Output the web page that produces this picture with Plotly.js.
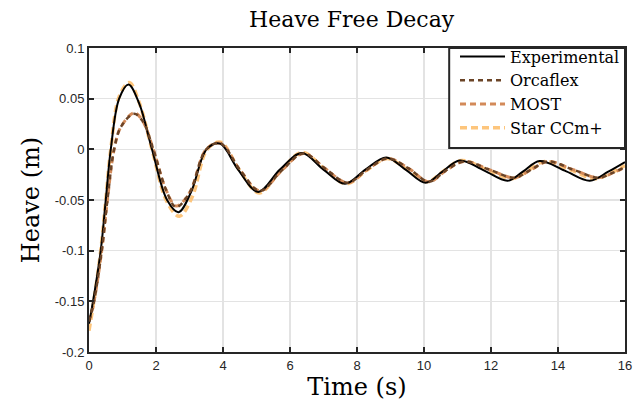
<!DOCTYPE html>
<html>
<head>
<meta charset="utf-8">
<script src="https://cdn.plot.ly/plotly-3.0.1.min.js"></script>
<style>html,body{margin:0;padding:0;background:#fff;}#chart{width:633px;height:409px;}</style>
</head>
<body>
<div id="chart"></div>
<script>
// Experimental
const expT = [0, 0.12, 0.35, 0.5, 0.65, 0.9, 1.18, 1.5, 1.88, 2.33, 2.67, 3.05, 3.51, 3.91, 4.45, 5.05, 5.7, 6.35, 7.0, 7.64, 8.25, 8.87, 9.45, 10.05, 10.55, 11.07, 11.8, 12.5, 12.95, 13.45, 14.2, 14.95, 15.5, 16];
const expY = [-0.172, -0.15, -0.1, -0.05, 0, 0.05, 0.064, 0.045, 0, -0.05, -0.062, -0.042, 0, 0.0056, -0.02, -0.042, -0.02, -0.0036, -0.02, -0.034, -0.02, -0.008, -0.02, -0.033, -0.022, -0.011, -0.021, -0.031, -0.022, -0.0115, -0.021, -0.031, -0.022, -0.0125];
// Orcaflex
const orcT = [0, 0.15, 0.38, 0.55, 0.75, 0.95, 1.34, 1.6, 1.92, 2.3, 2.6, 3.0, 3.5, 3.92, 4.5, 5.1, 5.75, 6.4, 7.05, 7.72, 8.3, 8.92, 9.55, 10.15, 10.65, 11.2, 11.95, 12.7, 13.2, 13.7, 14.45, 15.2, 15.65, 16];
const orcY = [-0.17, -0.15, -0.1, -0.05, 0, 0.022, 0.035, 0.028, 0, -0.04, -0.057, -0.043, 0, 0.006, -0.02, -0.041, -0.021, -0.004, -0.019, -0.033, -0.02, -0.009, -0.019, -0.032, -0.021, -0.012, -0.02, -0.028, -0.02, -0.012, -0.02, -0.028, -0.023, -0.0175];
// MOST
const mostT = [0, 0.15, 0.38, 0.55, 0.75, 0.95, 1.35, 1.6, 1.92, 2.3, 2.6, 3.0, 3.5, 3.92, 4.5, 5.1, 5.75, 6.4, 7.05, 7.72, 8.3, 8.92, 9.55, 10.15, 10.65, 11.2, 11.95, 12.7, 13.2, 13.7, 14.45, 15.2, 15.65, 16];
const mostY = [-0.17, -0.15, -0.1, -0.05, 0, 0.022, 0.036, 0.028, 0, -0.04, -0.056, -0.043, 0, 0.006, -0.02, -0.041, -0.021, -0.004, -0.019, -0.033, -0.02, -0.009, -0.019, -0.032, -0.021, -0.012, -0.02, -0.028, -0.02, -0.012, -0.02, -0.028, -0.023, -0.0175];
// Star CCm+
const starT = [0, 0.12, 0.35, 0.5, 0.65, 0.9, 1.2, 1.5, 1.88, 2.33, 2.7, 3.08, 3.53, 3.93, 4.48, 5.08, 5.72, 6.37, 7.02, 7.68, 8.28, 8.9, 9.5, 10.1, 10.6, 11.12, 11.88, 12.62, 13.1, 13.6, 14.35, 15.1, 15.6, 16];
const starY = [-0.179, -0.155, -0.1, -0.05, 0, 0.052, 0.066, 0.046, 0, -0.052, -0.066, -0.047, 0, 0.007, -0.02, -0.043, -0.021, -0.003, -0.019, -0.034, -0.021, -0.009, -0.02, -0.032, -0.021, -0.011, -0.02, -0.029, -0.021, -0.012, -0.02, -0.029, -0.023, -0.016];

const xTickVals = [0, 2, 4, 6, 8, 10, 12, 14, 16];
const xTickText = ['0', '2', '4', '6', '8', '10', '12', '14', '16'];
const yTickVals = [-0.2, -0.15, -0.1, -0.05, 0, 0.05, 0.1];
const yTickText = ['-0.2', '-0.15', '-0.1', '-0.05', '0', '0.05', '0.1'];

const serif = '"DejaVu Serif", "Liberation Serif", serif';
const sans = '"Liberation Sans", Arial, sans-serif';

const traces = [
  {x: starT, y: starY, name: 'Star CCm+', mode: 'lines', legendrank: 4,
   line: {color: '#fdc57c', width: 3.5, dash: '7px,4px', shape: 'spline'}},
  {x: mostT, y: mostY, name: 'MOST', mode: 'lines', legendrank: 3,
   line: {color: '#d38a59', width: 3, dash: '6px,4px', shape: 'spline'}},
  {x: expT, y: expY, name: 'Experimental', mode: 'lines', legendrank: 1,
   line: {color: '#000000', width: 2, shape: 'spline'}},
  {x: orcT, y: orcY, name: 'Orcaflex', mode: 'lines', legendrank: 2,
   line: {color: '#6b4427', width: 2.5, dash: '5px,4px', shape: 'spline'}}
];

const axisCommon = {
  showline: true, linecolor: '#262626', linewidth: 2, mirror: 'ticks',
  ticks: 'inside', ticklen: 5, tickwidth: 2, tickcolor: '#262626',
  showgrid: true, gridcolor: '#e3e3e3', gridwidth: 1.5, zeroline: false,
  tickfont: {family: sans, size: 13, color: '#262626'}
};

const layout = {
  width: 633, height: 409,
  margin: {l: 89, r: 8, t: 48, b: 57},
  paper_bgcolor: '#ffffff', plot_bgcolor: '#ffffff',
  title: {text: 'Heave Free Decay', font: {family: serif, size: 22, color: '#000'},
          xref: 'paper', x: 0.49, xanchor: 'center', y: 0.953, yanchor: 'middle'},
  xaxis: Object.assign({}, axisCommon, {
    range: [0, 16], tickmode: 'array', tickvals: xTickVals, ticktext: xTickText,
    title: {text: 'Time (s)', font: {family: serif, size: 24, color: '#000'}, standoff: 5}
  }),
  yaxis: Object.assign({}, axisCommon, {
    range: [-0.2, 0.1], tickmode: 'array', tickvals: yTickVals, ticktext: yTickText,
    title: {text: 'Heave (m)', font: {family: serif, size: 24, color: '#000'}, standoff: 8}
  }),
  shapes: [
    {type: 'rect', xref: 'paper', yref: 'paper', x0: 0.672, x1: 1, y0: 0.671, y1: 1,
     fillcolor: '#ffffff', line: {color: '#262626', width: 2}, layer: 'above'}
  ],
  showlegend: true,
  legend: {x: 1, y: 1.028, xanchor: 'right', yanchor: 'top', bgcolor: 'rgba(0,0,0,0)',
           borderwidth: 0, itemwidth: 45,
           font: {family: serif, size: 16, color: '#000'}}
};

Plotly.newPlot('chart', traces, layout, {displayModeBar: false, staticPlot: true});
</script>
</body>
</html>
